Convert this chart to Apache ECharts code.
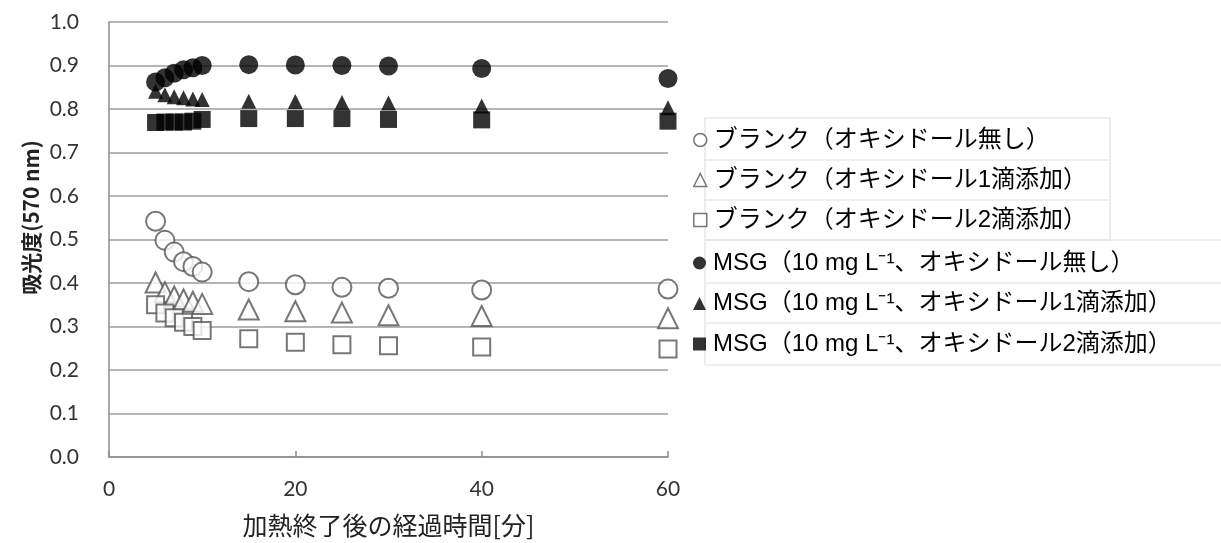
<!DOCTYPE html>
<html><head><meta charset="utf-8">
<script src="https://cdn.jsdelivr.net/npm/echarts@6/dist/echarts.min.js"></script>
<style>html,body{margin:0;padding:0;background:#fff}#c{width:1221px;height:543px}</style>
</head><body><div id="c"></div>
<script>
// elapsed time after heating [min]
const times = [5, 6, 7, 8, 9, 10, 15, 20, 25, 30, 40, 60];
// absorbance (570 nm)
const blankNone = [0.542, 0.498, 0.471, 0.449, 0.438, 0.425, 0.403, 0.396, 0.390, 0.388, 0.384, 0.386];
const blankOne  = [0.401, 0.379, 0.369, 0.362, 0.357, 0.352, 0.339, 0.335, 0.332, 0.326, 0.324, 0.319];
const blankTwo  = [0.350, 0.331, 0.320, 0.310, 0.300, 0.291, 0.272, 0.264, 0.258, 0.256, 0.253, 0.248];
const msgNone   = [0.862, 0.872, 0.882, 0.890, 0.895, 0.900, 0.902, 0.901, 0.900, 0.899, 0.893, 0.870];
const msgOne    = [0.841, 0.833, 0.828, 0.826, 0.823, 0.822, 0.818, 0.817, 0.815, 0.814, 0.807, 0.803];
const msgTwo    = [0.769, 0.770, 0.770, 0.770, 0.772, 0.776, 0.778, 0.778, 0.778, 0.776, 0.775, 0.772];

const seriesNames = [
  'ブランク（オキシドール無し）',
  'ブランク（オキシドール1滴添加）',
  'ブランク（オキシドール2滴添加）',
  'MSG（10 mg L⁻¹、オキシドール無し）',
  'MSG（10 mg L⁻¹、オキシドール1滴添加）',
  'MSG（10 mg L⁻¹、オキシドール2滴添加）'
];
const xTitle = '加熱終了後の経過時間[分]';
const yTitle = '吸光度(570 nm)';

const pair = arr => times.map((t, i) => [t, arr[i]]);
const hollow = { color: '#ffffff', borderColor: '#555555', borderWidth: 2 };
const solid = { color: '#000000', borderColor: '#000000', borderWidth: 0 };

function sc(name, data, symbol, size, style) {
  return { name, type: 'scatter', data: pair(data), symbol, symbolSize: size,
           itemStyle: style, emphasis: { disabled: true }, z: 3 };
}

const legendFont = '"Liberation Sans", "Noto Sans CJK JP", sans-serif';
const legendText = { fontFamily: legendFont, fontSize: 24, color: '#000', lineHeight: 26, padding: [0, 0, 0, 2] };
const boxLine = { fill: 'none', stroke: '#e0e0e0', lineWidth: 1.2 };

const chart = echarts.init(document.getElementById('c'), null, { renderer: 'canvas' });
chart.setOption({
  animation: false,
  backgroundColor: '#ffffff',
  textStyle: { fontFamily: '"Noto Sans CJK JP", sans-serif' },
  grid: { left: 109, right: 553, top: 22, bottom: 83, containLabel: false },
  xAxis: {
    type: 'value', min: 0, max: 60, interval: 20,
    name: xTitle, nameLocation: 'middle', nameGap: 56,
    nameTextStyle: { fontFamily: '"Noto Sans CJK JP", sans-serif', fontSize: 25, color: '#222' },
    axisLine: { lineStyle: { color: '#8c8c8c', width: 1.5 } },
    axisTick: { show: true, inside: true, length: 6, lineStyle: { color: '#8c8c8c', width: 1.5 } },
    axisLabel: { fontFamily: 'Lato, "Open Sans", sans-serif', fontSize: 21, color: '#333', margin: 22 },
    splitLine: { show: false }
  },
  yAxis: {
    type: 'value', min: 0, max: 1, interval: 0.1,
    name: yTitle, nameLocation: 'middle', nameGap: 67, nameRotate: 90,
    nameTextStyle: { fontFamily: '"Noto Sans CJK JP", sans-serif', fontSize: 21, fontWeight: 'bold', color: '#222', padding: [0, 0, 0, 44] },
    axisLine: { show: true, lineStyle: { color: '#8c8c8c', width: 1.5 } },
    axisTick: { show: false },
    axisLabel: { fontFamily: 'Lato, "Open Sans", sans-serif', fontSize: 21, color: '#333', margin: 30,
                 formatter: v => v.toFixed(1) },
    splitLine: { show: true, lineStyle: { color: '#9c9c9c', width: 1.5 } }
  },
  legend: [
    {
      orient: 'vertical', left: 688, top: 122, itemGap: 14, itemWidth: 13, itemHeight: 13,
      textStyle: legendText, selectedMode: false,
      data: [
        { name: seriesNames[0], icon: 'circle', itemStyle: { color: '#fff', borderColor: '#555', borderWidth: 1.5 } },
        { name: seriesNames[1], icon: 'triangle', itemStyle: { color: '#fff', borderColor: '#555', borderWidth: 1.5 } },
        { name: seriesNames[2], icon: 'rect', itemStyle: { color: '#fff', borderColor: '#555', borderWidth: 1.5 } }
      ]
    },
    {
      orient: 'vertical', left: 688, top: 245, itemGap: 14.5, itemWidth: 13, itemHeight: 13,
      textStyle: legendText, selectedMode: false,
      data: [
        { name: seriesNames[3], icon: 'circle' },
        { name: seriesNames[4], icon: 'triangle' },
        { name: seriesNames[5], icon: 'rect' }
      ]
    }
  ],
  graphic: [
    { type: 'rect', shape: { x: 705, y: 118, width: 405, height: 122 }, style: boxLine, silent: true, z: -1 },
    { type: 'line', shape: { x1: 705, y1: 160, x2: 1110, y2: 160 }, style: boxLine, silent: true, z: -1 },
    { type: 'line', shape: { x1: 705, y1: 200, x2: 1110, y2: 200 }, style: boxLine, silent: true, z: -1 },
    { type: 'rect', shape: { x: 705, y: 240, width: 525, height: 125 }, style: boxLine, silent: true, z: -1 },
    { type: 'line', shape: { x1: 705, y1: 283, x2: 1221, y2: 283 }, style: boxLine, silent: true, z: -1 },
    { type: 'line', shape: { x1: 705, y1: 323, x2: 1221, y2: 323 }, style: boxLine, silent: true, z: -1 }
  ],
  series: [
    sc(seriesNames[0], blankNone, 'circle', 19, hollow),
    sc(seriesNames[1], blankOne, 'triangle', 20, hollow),
    sc(seriesNames[2], blankTwo, 'rect', 17, hollow),
    sc(seriesNames[3], msgNone, 'circle', 19, solid),
    sc(seriesNames[4], msgOne, 'triangle', 15, solid),
    sc(seriesNames[5], msgTwo, 'rect', 17, solid)
  ]
});
</script>
</body></html>
